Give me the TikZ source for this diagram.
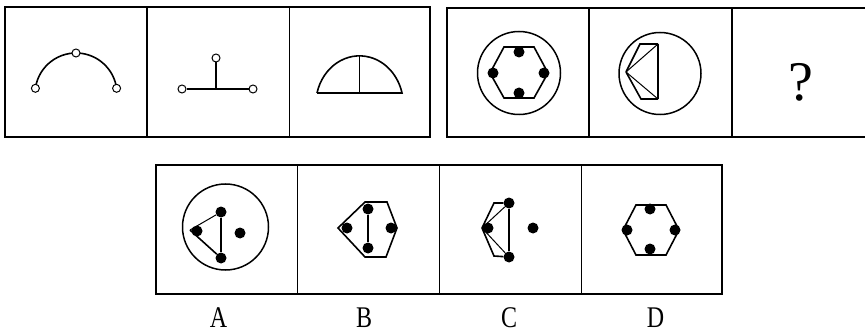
\documentclass[tikz,border=0pt]{standalone}
\usepackage{fontspec}
\newfontfamily\letterfont[FakeStretch=0.8]{Liberation Serif}
\newfontfamily\quesfont{Liberation Serif}
\tikzset{
  dot/.style={circle,fill,inner sep=0pt,minimum size=11pt},
  ring/.style={circle,draw,fill=white,inner sep=0pt,minimum size=8pt,line width=1pt},
  frame/.style={line width=2pt},
  fig/.style={line width=1.6pt},
  thinfig/.style={line width=1pt},
  hoop/.style={circle,draw,line width=1.5pt,inner sep=0pt}
}
\begin{document}
\begin{tikzpicture}[x=1pt,y=-1pt]
\useasboundingbox (0,0) rectangle (865,334);
\clip (0,0) rectangle (865,334);
\draw[frame] (5,7) rectangle (430,137);
\draw[line width=2pt] (147,7) -- (147,137);
\draw[line width=1pt] (289,7) -- (289,137);
\draw[frame] (447,8) rectangle (880,137);
\draw[line width=1.5pt] (589,8) -- (589,137) (732,8) -- (732,137);
\draw[frame] (156,165) rectangle (722,294);
\foreach \x in {297,439,581}
  \draw[line width=1pt] (\x,165) -- (\x,294);

\coordinate (p1a) at (35.4,88.3);
\coordinate (p1b) at (76,53);
\coordinate (p1c) at (116.6,88.3);
\draw[fig] (p1a) arc[start angle=188,end angle=352,radius=41];
\foreach \name in {a,b,c}
  \node[ring] (r1\name) at (p1\name) {};

\node[ring] (r2a) at (182,89) {};
\node[ring] (r2b) at (253,89) {};
\node[ring] (r2c) at (216,58) {};
\coordinate (m2) at (216,89);
\draw[fig] (r2a) -- (r2b);
\draw[fig] (r2c) -- (m2);

\coordinate (b3l) at (317,93);
\coordinate (b3r) at (402,93);
\coordinate (b3m) at (359.5,93);
\coordinate (t3) at (359.5,56);
\draw[fig] (b3l) arc[start angle=194,end angle=346,x radius=43.8,y radius=49] -- (b3l);
\draw[fig] (t3) -- (b3m);

\node[hoop,minimum size=83pt] (o4) at (519,73) {};
\draw[fig] (490,73) -- (504,47) -- (534,47) -- (548,73) -- (534,98) -- (504,98) -- cycle;
\foreach \x/\y/\name in {519/52/t,493/73/l,544/73/r,519/93/b}
  \node[dot] (d4\name) at (\x,\y) {};

\node[hoop,minimum size=82pt] (o5) at (660,73.5) {};
\foreach \x/\y/\name in {626/72/a,640/44/tl,658/44/tr,658/99/br,641/99/bl}
  \coordinate (p5\name) at (\x,\y);
\draw[fig] (p5a) -- (p5tl) -- (p5tr) (p5br) -- (p5bl) -- (p5a);
\draw[line width=2pt] (p5tr) -- (p5br);
\draw[thinfig] (p5a) -- (p5tr) (p5a) -- (p5br);

\node[font=\quesfont\fontsize{56}{56}\selectfont] (q) at (801,82) {?};

\node[hoop,minimum size=86pt] (oA) at (225.5,227) {};
\coordinate (pAa) at (190,230);
\foreach \x/\y/\name in {221/212/t,197/231/l,221/258/b,240/233/r}
  \node[dot] (dA\name) at (\x,\y) {};
\draw[thinfig] (pAa) -- (dAt);
\draw[fig] (pAa) -- (dAb);
\draw[fig] (dAt) -- (dAb);

\draw[fig] (338,228) -- (365,202) -- (387,202) -- (397,228) -- (386,257) -- (365,257) -- cycle;
\foreach \x/\y/\name in {368/209/t,347/228/l,368/248/b,391/228/r}
  \node[dot] (dB\name) at (\x,\y) {};
\draw[line width=2.2pt] (dBt) -- (dBb);

\foreach \x/\y/\name in {482/228/a,494/203/tl,494/256/bl}
  \coordinate (pC\name) at (\x,\y);
\foreach \x/\y/\name in {509/203/t,509/257/b,488/228/l,533/228/r}
  \node[dot] (dC\name) at (\x,\y) {};
\draw[fig] (pCa) -- (pCtl) -- (dCt);
\draw[fig] (pCa) -- (pCbl) -- (dCb);
\draw[line width=2.2pt] (dCt) -- (dCb);
\draw[thinfig] (pCa) -- (dCt) (pCa) -- (dCb);

\draw[fig] (623,230) -- (636,205) -- (666,205) -- (679,230) -- (666,255) -- (636,255) -- cycle;
\foreach \x/\y/\name in {650/209/t,627/230/l,650/249/b,675/230/r}
  \node[dot] (dD\name) at (\x,\y) {};

\foreach \x/\name in {218.5/A,364/B,509/C,655.5/D}
  \node[font=\letterfont\fontsize{30}{30}\selectfont,inner sep=0pt] (l\name) at (\x,318) {\name};
\end{tikzpicture}
\end{document}
